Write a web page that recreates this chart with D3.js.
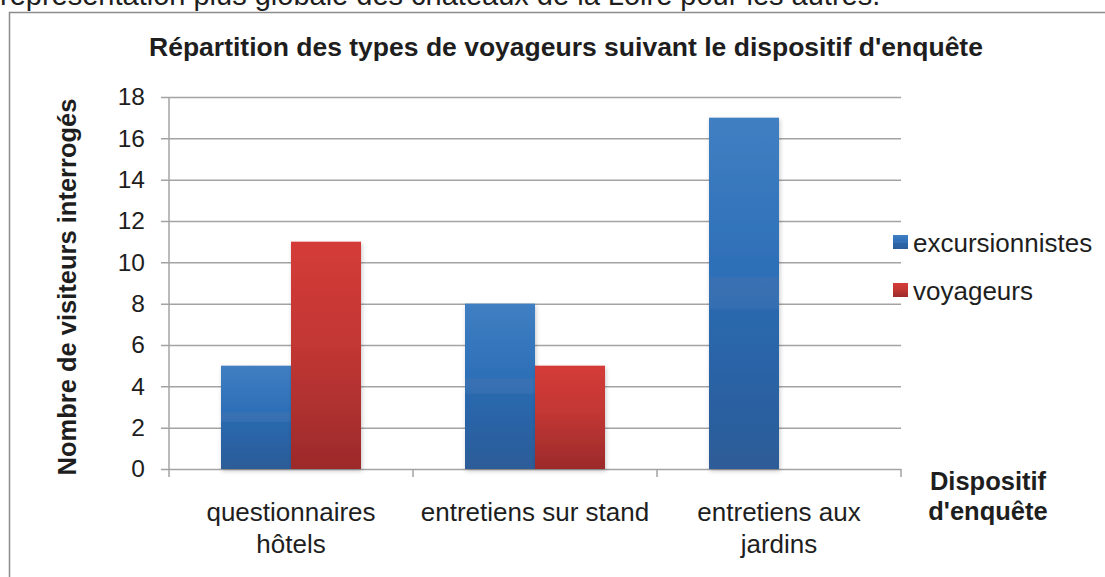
<!DOCTYPE html>
<html>
<head>
<meta charset="utf-8">
<script src="https://cdn.jsdelivr.net/npm/d3@7"></script>
<style>
  body { margin: 0; background: #fff; }
  svg { display: block; font-family: "Liberation Sans", Arial, sans-serif; }
</style>
</head>
<body>
<div id="chart"></div>
<script>
// data
const categories = ["questionnaires hôtels", "entretiens sur stand", "entretiens aux jardins"];
const categoryLines = [["questionnaires", "hôtels"], ["entretiens sur stand"], ["entretiens aux", "jardins"]];
const seriesNames = ["excursionnistes", "voyageurs"];
const excursionnistes = [5, 8, 17];
const voyageurs = [11, 5, 0];
const yTicks = [0, 2, 4, 6, 8, 10, 12, 14, 16, 18];

const W = 1105, H = 577;
const plot = {left: 169, right: 901, top: 97, bottom: 469};
const ink = "#1e1e1e";
const gridColor = "#a3a3a3";

const svg = d3.select("#chart").append("svg")
  .attr("width", W)
  .attr("height", H);

const defs = svg.append("defs");

// bar gradients, Excel 2007 style
const blueGrad = defs.append("linearGradient").attr("id", "gBlue")
  .attr("x1", "0%").attr("y1", "0%").attr("x2", "0%").attr("y2", "100%");
[["0%", "#407fc2"], ["45%", "#2d6fb7"], ["46%", "#3a71b3"], ["54%", "#346eb1"], ["55%", "#2968ae"], ["100%", "#2d5c98"]]
  .forEach(s => blueGrad.append("stop").attr("offset", s[0]).attr("stop-color", s[1]));

const redGrad = defs.append("linearGradient").attr("id", "gRed")
  .attr("x1", "0%").attr("y1", "0%").attr("x2", "0%").attr("y2", "100%");
[["0%", "#d43b38"], ["45%", "#c23733"], ["100%", "#9c2a2b"]]
  .forEach(s => redGrad.append("stop").attr("offset", s[0]).attr("stop-color", s[1]));

const shadow = defs.append("filter").attr("id", "shadow")
  .attr("x", "-20%").attr("y", "-10%").attr("width", "140%").attr("height", "120%");
shadow.append("feDropShadow")
  .attr("dx", 1).attr("dy", 2).attr("stdDeviation", 2)
  .attr("flood-color", "#000").attr("flood-opacity", 0.22);

// text of the page above the chart, cut by the screenshot
svg.append("text")
  .attr("x", 0).attr("y", 5)
  .style("font-size", "29px")
  .attr("fill", ink)
  .text("représentation plus globale des châteaux de la Loire pour les autres.");

// chart frame
svg.append("rect")
  .attr("x", 9.5).attr("y", 12.5)
  .attr("width", W + 20).attr("height", H + 20)
  .attr("fill", "none")
  .attr("stroke", "#8c8c8c")
  .attr("stroke-width", 1.5);

svg.append("text")
  .attr("x", 566).attr("y", 56)
  .attr("text-anchor", "middle")
  .style("font-size", "26.5px").style("font-weight", "bold")
  .attr("fill", ink)
  .text("Répartition des types de voyageurs suivant le dispositif d'enquête");

//Scales
const x = d3.scaleBand()
  .domain(categories)
  .range([plot.left, plot.right]);

const y = d3.scaleLinear()
  .domain([0, 18])
  .range([plot.bottom, plot.top]);

const barW = 70;
const xInner = d3.scaleBand()
  .domain(seriesNames)
  .range([-barW, barW]);

// gridlines and y tick labels
const yAxis = d3.axisLeft(y)
  .tickValues(yTicks)
  .tickSize(-(plot.right - plot.left + 8))
  .tickPadding(16);

const yAxisG = svg.append("g")
  .attr("transform", "translate(" + (plot.left - 8) + ",0)")
  .call(yAxis);
yAxisG.select(".domain").remove();
yAxisG.selectAll(".tick line").attr("stroke", gridColor).attr("stroke-width", 1.5);
yAxisG.selectAll(".tick text")
  .attr("fill", ink)
  .style("font-size", "24.5px")
  .style("font-family", "'Liberation Sans', Arial, sans-serif");

// vertical axis line
svg.append("line")
  .attr("x1", plot.left).attr("x2", plot.left)
  .attr("y1", y(18)).attr("y2", plot.bottom + 8)
  .attr("stroke", gridColor).attr("stroke-width", 1.5);

// category boundary ticks on the x axis
const bounds = categories.map(c => x(c)).concat([x.range()[1]]);
svg.selectAll(".xtick")
  .data(bounds.slice(1))
  .enter().append("line")
  .attr("class", "xtick")
  .attr("x1", d => d).attr("x2", d => d)
  .attr("y1", plot.bottom).attr("y2", plot.bottom + 8)
  .attr("stroke", gridColor).attr("stroke-width", 1.5);

// bars
const rows = [];
categories.forEach((c, i) => {
  rows.push({cat: c, series: "excursionnistes", value: excursionnistes[i]});
  rows.push({cat: c, series: "voyageurs", value: voyageurs[i]});
});

svg.append("g")
  .selectAll("rect")
  .data(rows.filter(d => d.value > 0))
  .enter().append("rect")
  .attr("x", d => x(d.cat) + x.bandwidth() / 2 + xInner(d.series))
  .attr("y", d => y(d.value))
  .attr("width", xInner.bandwidth())
  .attr("height", d => y(0) - y(d.value))
  .attr("fill", d => d.series === "excursionnistes" ? "url(#gBlue)" : "url(#gRed)")
  .attr("filter", "url(#shadow)");

// category labels
const catLabels = svg.append("g")
  .selectAll("text")
  .data(categories)
  .enter().append("text")
  .attr("text-anchor", "middle")
  .attr("fill", ink)
  .style("font-size", "26px");
catLabels.each(function(c, i) {
  d3.select(this).selectAll("tspan")
    .data(categoryLines[i])
    .enter().append("tspan")
    .attr("x", x(c) + x.bandwidth() / 2)
    .attr("y", (d, j) => 521 + j * 32)
    .text(d => d);
});

// axis titles
svg.append("text")
  .attr("transform", "translate(76," + ((plot.top + plot.bottom) / 2 + 4) + ") rotate(-90)")
  .attr("text-anchor", "middle")
  .style("font-size", "25.5px").style("font-weight", "bold")
  .attr("fill", ink)
  .text("Nombre de visiteurs interrogés");

const xTitle = svg.append("text")
  .attr("text-anchor", "middle")
  .style("font-size", "25.5px").style("font-weight", "bold")
  .attr("fill", ink);
["Dispositif", "d'enquête"].forEach((t, j) => {
  xTitle.append("tspan").attr("x", 988).attr("y", 490 + j * 30).text(t);
});

// legend
const legend = svg.append("g")
  .selectAll("g")
  .data(seriesNames)
  .enter().append("g")
  .attr("transform", (d, i) => "translate(893," + (235 + i * 48) + ")");
legend.append("rect")
  .attr("width", 15).attr("height", 14)
  .attr("fill", d => d === "excursionnistes" ? "url(#gBlue)" : "url(#gRed)");
legend.append("text")
  .attr("x", 20).attr("y", 17)
  .attr("fill", ink)
  .style("font-size", "26px")
  .text(d => d);
</script>
</body>
</html>
